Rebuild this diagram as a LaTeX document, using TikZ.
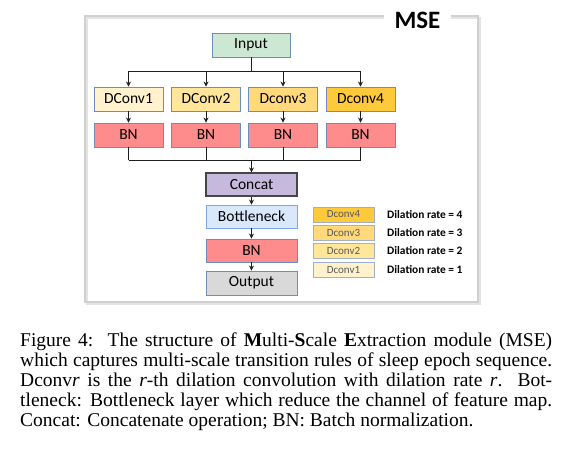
\documentclass[tikz,border=0pt]{standalone}
\usepackage{fontspec}
\setmainfont{Liberation Serif}
\newfontfamily\calib{Carlito}
\usetikzlibrary{arrows.meta}
\definecolor{inpfill}{RGB}{205,232,210}
\definecolor{bluebd}{RGB}{110,140,190}
\definecolor{dcA}{RGB}{255,242,204}
\definecolor{dcB}{RGB}{255,230,153}
\definecolor{dcC}{RGB}{255,217,122}
\definecolor{dcD}{RGB}{255,201,60}
\definecolor{bnfill}{RGB}{255,140,140}
\definecolor{catfill}{RGB}{197,186,222}
\definecolor{catbd}{RGB}{70,70,70}
\definecolor{botfill}{RGB}{218,232,252}
\definecolor{botbd}{RGB}{126,166,224}
\definecolor{outfill}{RGB}{217,217,217}
\definecolor{framec}{RGB}{208,208,208}
\definecolor{legbd}{RGB}{160,176,200}
\definecolor{legtxt}{RGB}{90,90,90}
\definecolor{linec}{RGB}{30,30,30}
\tikzset{
  box/.style={draw=bluebd, line width=0.9pt, minimum height=24pt, inner sep=0pt,
    font=\calib\fontsize{15.5}{18}\selectfont},
  dbox/.style={box, minimum width=69pt},
  cbox/.style={box, minimum width=91pt, minimum height=23pt},
  legbox/.style={draw=legbd, line width=0.8pt, minimum width=61pt, minimum height=15pt,
    inner sep=0pt, text=legtxt, font=\calib\fontsize{11}{13}\selectfont},
  leglab/.style={anchor=west, inner sep=0pt, font=\calib\bfseries\fontsize{11.4}{13}\selectfont},
  arr/.style={draw=linec, line width=0.9pt, -{Stealth[length=5pt,width=5pt]}},
  ln/.style={draw=linec, line width=0.9pt},
  capline/.style={anchor=base west, inner sep=0pt, font=\fontsize{19.5}{20}\selectfont}
}
\begin{document}
\begin{tikzpicture}[x=1pt,y=-1pt]
\useasboundingbox[fill=white] (0,0) rectangle (562,450);
% frame
\draw[framec!60, line width=2pt] (87,18) rectangle (480,304);
\draw[framec, line width=1.5pt] (85,16) rectangle (478,302);
\node[fill=white, inner xsep=11pt, inner ysep=2pt, font=\calib\bfseries\fontsize{25}{28}\selectfont] (mse) at (417.5,20) {MSE};
% nodes
\node[box, fill=inpfill, minimum width=78pt] (in) at (251,45) {Input};
\node[dbox, fill=dcA] (d1) at (128.5,99) {DConv1};
\node[dbox, fill=dcB] (d2) at (206,99) {DConv2};
\node[dbox, fill=dcC] (d3) at (283,99) {Dconv3};
\node[dbox, fill=dcD] (d4) at (360.5,99) {Dconv4};
\node[dbox, fill=bnfill] (b1) at (128.5,135) {BN};
\node[dbox, fill=bnfill] (b2) at (206,135) {BN};
\node[dbox, fill=bnfill] (b3) at (283,135) {BN};
\node[dbox, fill=bnfill] (b4) at (360.5,135) {BN};
\node[cbox, fill=catfill, draw=catbd, line width=1.1pt] (cat) at (251.5,184.5) {Concat};
\node[cbox, fill=botfill, draw=botbd] (bot) at (251.5,216.5) {Bottleneck};
\node[cbox, fill=bnfill] (bn) at (251.5,250.5) {BN};
\node[cbox, fill=outfill, minimum height=24pt] (out) at (251.5,283) {Output};
% connectors
\coordinate (top) at (251,71);
\coordinate (bus) at (251,160);
\draw[ln] (in.south) -- (top);
\draw[ln] (d1.north |- top) -- (d4.north |- top);
\foreach \n in {d1,d2,d3,d4} \draw[arr] (\n.north |- top) -- (\n.north);
\draw[arr] (d1) -- (b1);
\draw[arr] (d2) -- (b2);
\draw[arr] (d3) -- (b3);
\draw[arr] (d4) -- (b4);
\foreach \n in {b1,b2,b3,b4} \draw[ln] (\n.south) -- (\n.south |- bus);
\draw[ln] (b1.south |- bus) -- (b4.south |- bus);
\draw[arr] (cat.north |- bus) -- (cat.north);
\draw[arr] (cat) -- (bot);
\draw[arr] (bot) -- (bn);
\draw[arr] (bn) -- (out);
% legend
\node[legbox, fill=dcD] (l4) at (343.5,214.5) {Dconv4};
\node[legbox, fill=dcC] (l3) at (343.5,232.5) {Dconv3};
\node[legbox, fill=dcB] (l2) at (343.5,251) {Dconv2};
\node[legbox, fill=dcA] (l1) at (343.5,270) {Dconv1};
\node[leglab] (t4) at (387,214.5) {Dilation rate = 4};
\node[leglab] (t3) at (387,232.5) {Dilation rate = 3};
\node[leglab] (t2) at (387,251) {Dilation rate = 2};
\node[leglab] (t1) at (387,270) {Dilation rate = 1};
% caption
\node[capline] (c1) at (20,346) {\makebox[532pt][s]{Figure 4:\ \ The structure of \textbf{M}ulti-\textbf{S}cale \textbf{E}xtraction module (MSE)}};
\node[capline] (c2) at (20,366) {\makebox[532pt][s]{which captures multi-scale transition rules of sleep epoch sequence.}};
\node[capline] (c3) at (20,386) {\makebox[532pt][s]{Dconv\textit{r} is the \textit{r}-th dilation convolution with dilation rate \textit{r}.\ \ Bot-}};
\node[capline] (c4) at (20,406) {\makebox[532pt][s]{tleneck: Bottleneck layer which reduce the channel of feature map.}};
\node[capline] (c5) at (20,426) {Concat: Concatenate operation; BN: Batch normalization.};
\end{tikzpicture}
\end{document}
